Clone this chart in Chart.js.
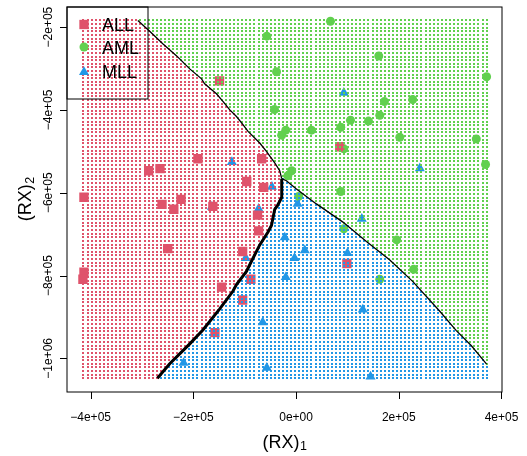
<!DOCTYPE html>
<html><head><meta charset="utf-8">
<script src="https://cdn.jsdelivr.net/npm/chart.js@4.4.0/dist/chart.umd.min.js"></script>
<style>html,body{margin:0;padding:0;background:#fff;}#wrap{width:527px;height:456px;position:relative;}</style>
</head><body><div id="wrap"><canvas id="c" width="527" height="456"></canvas></div>
<script>
// ---- categories & styling keys ----
const classes = ["ALL", "AML", "MLL"];
const classColors = ["#DF536B", "#61D04F", "#2297E6"];

// ---- observed samples ----
const allX = [-149000,-287000,-265000,-191000,-67000,-96000,-63000,-413000,-224000,-261000,-238000,-162000,-75000,-73000,-250000,-104000,-88000,-145000,-104000,-158000,-413000,-415000,85000,99000];
const allY = [-330000,-547000,-542000,-518000,-518000,-573000,-587000,-611000,-616000,-628000,-640000,-633000,-654000,-692000,-735000,-742000,-809000,-828000,-859000,-938000,-792000,-809000,-489000,-771000];
const amlX = [67000,-57000,161000,371000,-38000,172000,227000,-42000,163000,106000,141000,87000,30000,-20000,-28000,202000,351000,93000,369000,-8500,-16000,87000,5000,93000,196000,229000,163000];
const amlY = [-186000,-222000,-270000,-320000,-308000,-380000,-375000,-399000,-413000,-425000,-427000,-442000,-449000,-449000,-461000,-466000,-470000,-494000,-532000,-547000,-559000,-597000,-609000,-687000,-714000,-785000,-809000];
const mllX = [93000,-125000,-47000,241000,-164000,-73000,-22000,-3000,17000,-98000,-20000,100000,128000,-65000,130000,-219000,-57000,145000,3000];
const mllY = [-359000,-526000,-586000,-541000,-634000,-639000,-708000,-758000,-739000,-758000,-804000,-746000,-663000,-913000,-882000,-1011000,-1023000,-1044000,-627000];

// ---- decision boundaries ----
const rgX = [-308000,-285000,-259000,-233000,-207000,-184000,-178000,-155000,-142000,-129000,-116000,-103000,-93500,-70700,-57700,-41500,-31800,-27900];
const rgY = [-184000,-210000,-241000,-269000,-301000,-325000,-337000,-361000,-380000,-400000,-416000,-436000,-452000,-480000,-500000,-528000,-547000,-566000];
const rbX = [-27900,-27900,-35700,-41500,-47900,-54600,-70700,-90200,-96600,-116000,-123000,-149000,-181000,-207000,-246000,-270000];
const rbY = [-566000,-611000,-630000,-640000,-679000,-695000,-726000,-774000,-790000,-822000,-838000,-881000,-931000,-965000,-1013000,-1048000];
const gbX = [-27900,-18800,700,39600,91300,137000,182000,227000,279000,312000,341000,371000];
const gbY = [-566000,-571000,-591000,-627000,-671000,-718000,-762000,-814000,-885000,-933000,-969000,-1014000];

// ---- classification grid extent ----
const gridXRange = [-414000, 371000];
const gridYRange = [-1048000, -184000];
const gridCount = [100, 100];

// ---- axes ----
const xTicks = [-400000, -200000, 0, 200000, 400000];
const yTicks = [-200000, -400000, -600000, -800000, -1000000];
const xTickLabels = ["\u22124e+05", "\u22122e+05", "0e+00", "2e+05", "4e+05"];
const yTickLabels = ["\u22122e+05", "\u22124e+05", "\u22126e+05", "\u22128e+05", "\u22121e+06"];
const xTitle = ["(RX)", "1"];
const yTitle = ["(RX)", "2"];

function interp(keys, vals, k) {
  const n = keys.length;
  const asc = keys[n - 1] > keys[0];
  if (asc ? k <= keys[0] : k >= keys[0]) return vals[0];
  if (asc ? k >= keys[n - 1] : k <= keys[n - 1]) return vals[n - 1];
  for (let i = 0; i < n - 1; i++) {
    const a = keys[i], b = keys[i + 1];
    if ((k - a) * (k - b) <= 0 && a !== b) {
      const t = (k - a) / (b - a);
      return vals[i] + t * (vals[i + 1] - vals[i]);
    }
  }
  return vals[n - 1];
}
const junctionY = rgY[rgY.length - 1];
function classify(x, y) {
  if (y >= junctionY) return x < interp(rgY, rgX, y) ? 0 : 1;
  if (x < interp(rbY, rbX, y)) return 0;
  return y > interp(gbX, gbY, x) ? 1 : 2;
}

const gridPts = [[], [], []];
for (let i = 0; i < gridCount[0]; i++) {
  const gx = gridXRange[0] + (gridXRange[1] - gridXRange[0]) * i / (gridCount[0] - 1);
  for (let j = 0; j < gridCount[1]; j++) {
    const gy = gridYRange[0] + (gridYRange[1] - gridYRange[0]) * j / (gridCount[1] - 1);
    gridPts[classify(gx, gy)].push({x: gx, y: gy});
  }
}

// crisp 2x2 dot sprite per class
function dotSprite(color) {
  const cv = document.createElement("canvas");
  cv.width = 2; cv.height = 2;
  const g = cv.getContext("2d"); g.fillStyle = color; g.fillRect(0, 0, 2, 2);
  return cv;
}

const zip = (xs, ys) => xs.map((v, i) => ({x: v, y: ys[i]}));
const datasets = [];
datasets.push({data: zip(rgX, rgY), showLine: true, borderColor: "#000", borderWidth: 1.3, pointRadius: 0, order: 0, tension: 0});
datasets.push({data: zip(gbX, gbY), showLine: true, borderColor: "#000", borderWidth: 1.3, pointRadius: 0, order: 0, tension: 0});
datasets.push({data: zip(rbX, rbY), showLine: true, borderColor: "#000", borderWidth: 3, pointRadius: 0, order: 0, tension: 0});
for (let c = 0; c < 3; c++) {
  datasets.push({data: gridPts[c], pointStyle: dotSprite(classColors[c]), pointRadius: 1.5, pointBorderWidth: 0, showLine: false, order: 1, isGrid: true});
}
const styles = ["rect", "circle", "triangle"];
const radii = [6.6, 4.5, 5.8];
const sampleData = [zip(allX, allY), zip(amlX, amlY), zip(mllX, mllY)];
for (let c = 0; c < 3; c++) {
  datasets.push({label: classes[c], data: sampleData[c], pointStyle: styles[c], pointRadius: radii[c], pointBackgroundColor: classColors[c], pointBorderWidth: 0, showLine: false, order: 2});
}

const FONT = '"Liberation Sans", Arial, Helvetica, sans-serif';
const crisp = {
  id: "crisp",
  beforeDatasetDraw(chart, args) {
    if (chart.data.datasets[args.index].isGrid) { chart.ctx.save(); chart.ctx.imageSmoothingEnabled = false; }
  },
  afterDatasetDraw(chart, args) {
    if (chart.data.datasets[args.index].isGrid) chart.ctx.restore();
  }
};
function drawSym(ctx, style, r, x, y, color) {
  ctx.fillStyle = color;
  Chart.helpers.drawPoint(ctx, {pointStyle: style, radius: r, rotation: 0, borderWidth: 0}, x, y);
}
const decor = {
  id: "decor",
  afterDraw(chart) {
    const ctx = chart.ctx, xs = chart.scales.x, ys = chart.scales.y, a = chart.chartArea;
    ctx.save();
    ctx.strokeStyle = "#000"; ctx.lineWidth = 1;
    ctx.strokeRect(Math.round(a.left), Math.round(a.top), Math.round(a.right - a.left), Math.round(a.bottom - a.top));
    ctx.beginPath();
    xTicks.forEach(v => { const p = Math.round(xs.getPixelForValue(v)) + 0.5; ctx.moveTo(p, a.bottom); ctx.lineTo(p, a.bottom + 7); });
    yTicks.forEach(v => { const p = Math.round(ys.getPixelForValue(v)) + 0.5; ctx.moveTo(a.left, p); ctx.lineTo(a.left - 7, p); });
    ctx.stroke();
    ctx.fillStyle = "#000";
    ctx.font = "12px " + FONT; ctx.textAlign = "center"; ctx.textBaseline = "alphabetic";
    xTicks.forEach((v, i) => ctx.fillText(xTickLabels[i], xs.getPixelForValue(v), 420.5));
    yTicks.forEach((v, i) => { ctx.save(); ctx.translate(52, ys.getPixelForValue(v)); ctx.rotate(-Math.PI / 2); ctx.fillText(yTickLabels[i], 0, 0); ctx.restore(); });
    ctx.textAlign = "left";
    const drawTitle = (parts, cx, cy, rot, base) => {
      ctx.save(); ctx.translate(cx, cy); if (rot) ctx.rotate(-Math.PI / 2);
      ctx.font = "18px " + FONT; const w1 = ctx.measureText(parts[0]).width;
      ctx.font = "12.5px " + FONT; const w2 = ctx.measureText(parts[1]).width;
      const s = -(w1 + w2) / 2;
      ctx.font = "18px " + FONT; ctx.fillText(parts[0], s, base);
      ctx.font = "12.5px " + FONT; ctx.fillText(parts[1], s + w1 + 0.5, base + 2.5);
      ctx.restore();
    };
    drawTitle(xTitle, (a.left + a.right) / 2, 0, false, 447.7);
    drawTitle(yTitle, 0, (a.top + a.bottom) / 2, true, 31);
    ctx.strokeStyle = "#000"; ctx.lineWidth = 1;
    ctx.strokeRect(Math.round(a.left), Math.round(a.top), 81, 92);
    const rowsY = [24.5, 47, 72];
    for (let c = 0; c < 3; c++) drawSym(ctx, styles[c], radii[c], 84, rowsY[c], classColors[c]);
    ctx.fillStyle = "#000"; ctx.font = "18px " + FONT; ctx.textAlign = "left";
    const baseY = [31, 54.3, 77.6];
    classes.forEach((t, i) => ctx.fillText(t, 102, baseY[i]));
    ctx.restore();
  }
};

new Chart(document.getElementById("c").getContext("2d"), {
  type: "scatter",
  data: {datasets},
  options: {
    responsive: false, animation: false, events: [],
    layout: {padding: {left: 67, right: 25, top: 2, bottom: 64}},
    scales: {
      x: {type: "linear", min: -446000, max: 401000, display: false},
      y: {type: "linear", min: -1081200, max: -150600, display: false}
    },
    plugins: {legend: {display: false}, tooltip: {enabled: false}}
  },
  plugins: [crisp, decor]
});
</script></body></html>
